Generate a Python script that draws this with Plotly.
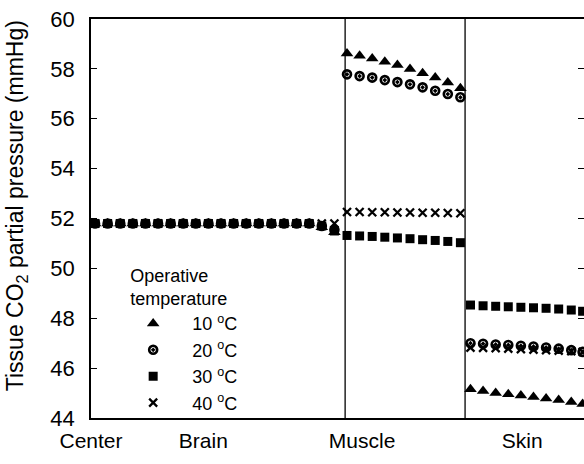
import plotly.graph_objects as go

# ---- data ----
brain_x = [0, 1, 2, 3, 4, 5, 6, 7, 8, 9, 10, 11, 12, 13, 14, 15, 16, 17, 18, 19]
muscle_x = [20, 21, 22, 23, 24, 25, 26, 27, 28, 29]
skin_x = [29.8, 30.8, 31.8, 32.8, 33.8, 34.8, 35.8, 36.8, 37.8, 38.7]

brain_10 = [51.8] * 18 + [51.65, 51.45]
brain_20 = [51.8] * 18 + [51.7, 51.55]
brain_30 = [51.8] * 18 + [51.7, 51.5]
brain_40 = [51.8] * 18 + [51.8, 51.8]

muscle_10 = [58.62, 58.53, 58.42, 58.29, 58.16, 58.0, 57.82, 57.65, 57.45, 57.22]
muscle_20 = [57.78, 57.71, 57.65, 57.55, 57.47, 57.38, 57.26, 57.12, 56.99, 56.86]
muscle_30 = [51.32, 51.3, 51.28, 51.25, 51.22, 51.19, 51.15, 51.12, 51.08, 51.03]
muscle_40 = [52.26, 52.26, 52.25, 52.25, 52.24, 52.24, 52.23, 52.23, 52.22, 52.21]

skin_10 = [45.15, 45.08, 45.0, 44.95, 44.9, 44.84, 44.78, 44.72, 44.64, 44.56]
skin_20 = [47.0, 46.98, 46.95, 46.93, 46.9, 46.87, 46.83, 46.78, 46.72, 46.65]
skin_30 = [48.53, 48.5, 48.48, 48.46, 48.44, 48.42, 48.4, 48.37, 48.33, 48.28]
skin_40 = [46.82, 46.81, 46.8, 46.78, 46.76, 46.74, 46.72, 46.7, 46.68, 46.65]

series_names = ["10 <sup>o</sup>C", "20 <sup>o</sup>C", "30 <sup>o</sup>C", "40 <sup>o</sup>C"]
boundaries = [19.85, 29.37]
region_labels = ["Center", "Brain", "Muscle", "Skin"]
region_label_x = [-0.32, 8.6, 21.2, 33.9]
y_ticks = [44, 46, 48, 50, 52, 54, 56, 58, 60]
y_title = "Tissue CO<sub>2</sub> partial pressure (mmHg)"

FONT = "Liberation Sans, Arial, sans-serif"
FS = 21
YFS = 22
TFS = 23
LFS = 18

x_all = brain_x + muscle_x + skin_x
series = [
    brain_10 + muscle_10 + skin_10,
    brain_20 + muscle_20 + skin_20,
    brain_30 + muscle_30 + skin_30,
    brain_40 + muscle_40 + skin_40,
]
markers = [
    dict(symbol="triangle-up", size=11, color="black"),
    dict(symbol="circle-open-dot", size=8, color="black", line=dict(width=2.6, color="black")),
    dict(symbol="square", size=9, color="black"),
    dict(symbol="x-thin-open", size=8, color="black", line=dict(width=2.3, color="black")),
]

fig = go.Figure()
for name, ys, mk in zip(series_names, series, markers):
    fig.add_trace(go.Scatter(x=x_all, y=ys, mode="markers", name=name, marker=mk))

# invisible trace for right-side ticks
fig.add_trace(go.Scatter(x=[x_all[0]], y=[y_ticks[0]], yaxis="y2", mode="markers",
                         marker=dict(opacity=0), showlegend=False, hoverinfo="skip"))

for b in boundaries:
    fig.add_shape(type="line", xref="x", yref="paper", x0=b, x1=b, y0=0, y1=1,
                  line=dict(color="black", width=1.3))

fig.add_annotation(text=y_title, textangle=-90, xref="paper", yref="paper",
                   x=-0.152, y=0.531, xanchor="center", yanchor="middle",
                   showarrow=False, font=dict(size=TFS))

fig.update_layout(
    width=584, height=464,
    margin=dict(l=91, r=0, t=19, b=46),
    paper_bgcolor="white", plot_bgcolor="white",
    font=dict(family=FONT, size=FS, color="black"),
    showlegend=True,
    legend=dict(
        title=dict(text="Operative<br>temperature", side="top center", font=dict(size=LFS)),
        x=0.047, y=0.40, xanchor="left", yanchor="top",
        bgcolor="rgba(0,0,0,0)", itemwidth=68, font=dict(size=LFS),
        tracegroupgap=0,
    ),
    xaxis=dict(
        range=[-0.32, 38.81], showgrid=False, zeroline=False,
        showline=True, linecolor="black", linewidth=1.5, mirror=True,
        ticks="", tickvals=region_label_x, ticktext=region_labels,
        tickfont=dict(size=FS), ticklabelstandoff=3,
    ),
    yaxis=dict(
        range=[44, 60], showgrid=False, zeroline=False,
        showline=True, linecolor="black", linewidth=1.5,
        ticks="inside", ticklen=6, tickwidth=1, tickcolor="black",
        tickvals=y_ticks, tickfont=dict(size=YFS), ticklabelstandoff=10,
    ),
    yaxis2=dict(
        range=[44, 60], overlaying="y", side="right", showgrid=False, zeroline=False,
        showline=False, ticks="inside", ticklen=6, tickwidth=1, tickcolor="black",
        tickvals=y_ticks, showticklabels=False,
    ),
)

fig.write_html("out.html")
